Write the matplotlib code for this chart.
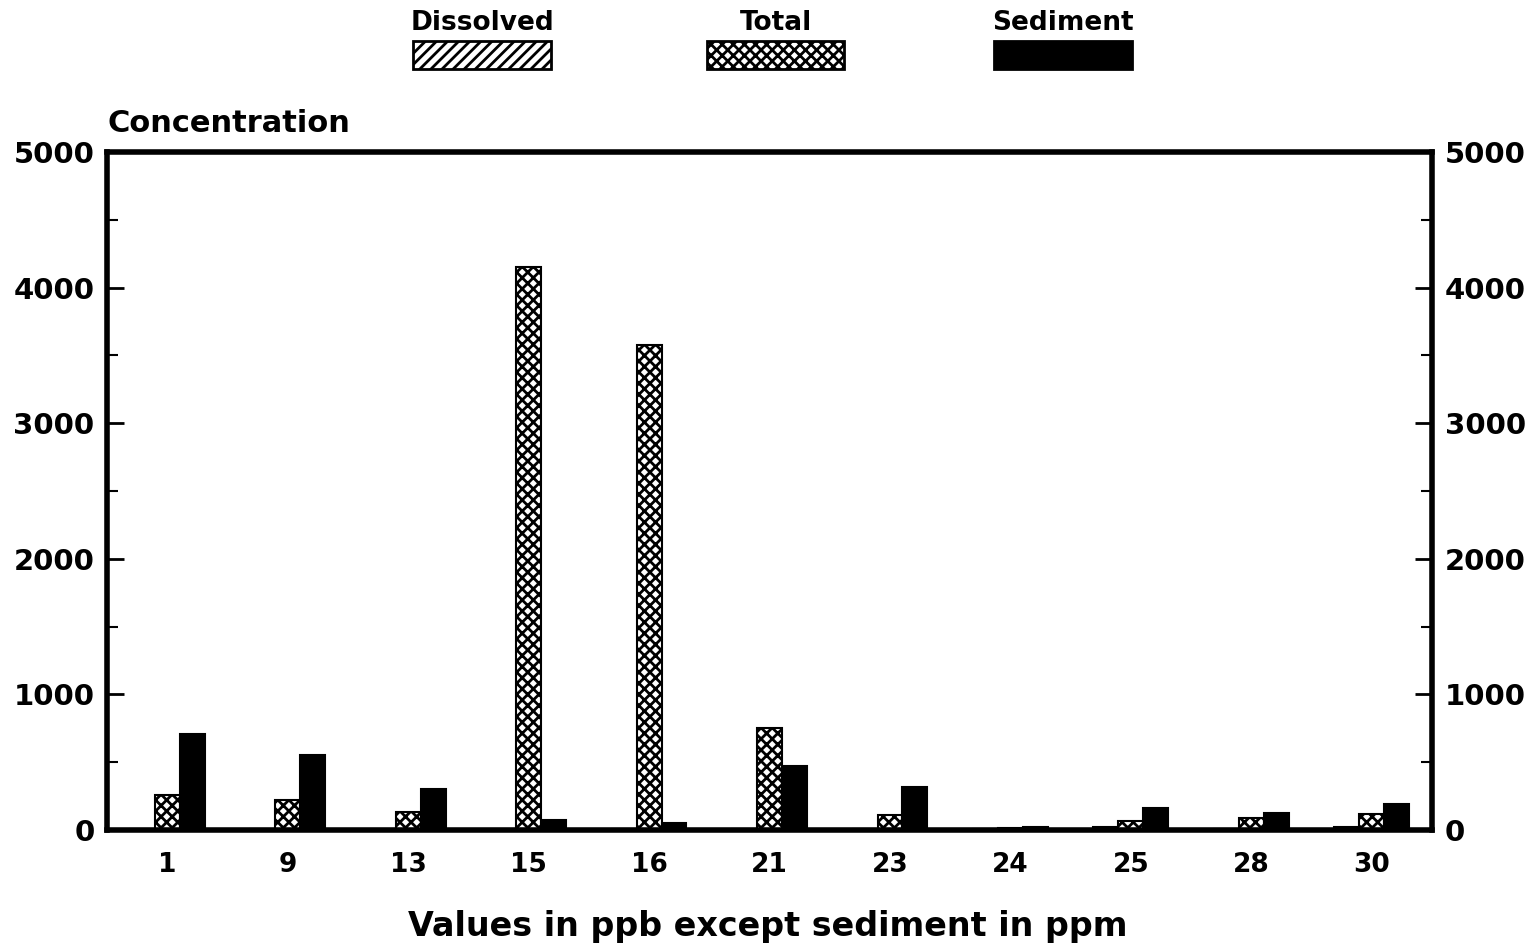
import matplotlib.pyplot as plt
import numpy as np
from matplotlib.patches import Rectangle
from matplotlib.ticker import MultipleLocator

plt.rcParams['font.family'] = ['DejaVu Sans']
plt.rcParams['font.weight'] = 'bold'
plt.rcParams['hatch.linewidth'] = 2.0

sites = ['1', '9', '13', '15', '16', '21', '23', '24', '25', '28', '30']
dissolved = [10, 5, 5, 10, 5, 5, 10, 10, 25, 5, 20]
total = [260, 220, 130, 4150, 3580, 750, 110, 15, 70, 90, 120]
sediment = [710, 550, 305, 75, 55, 470, 320, 20, 160, 125, 195]
series_names = ['Dissolved', 'Total', 'Sediment']
hatches = ['///', 'xxx', '']
fills = ['white', 'white', 'black']

fig = plt.figure(figsize=(15.36, 9.5), dpi=100)
ax = fig.add_axes([0.0697, 0.1263, 0.8626, 0.7137])

x = np.arange(len(sites))
w = 0.207
for i, vals in enumerate([dissolved, total, sediment]):
    ax.bar(x + (i - 1) * w, vals, width=w, color=fills[i], hatch=hatches[i],
           edgecolor='black', linewidth=1.5)

ax.set_xlim(-0.5, len(sites) - 0.5)
ax.set_ylim(0, 5000)
ax.set_xticks(x)
ax.set_xticklabels(sites, fontsize=19, fontweight='bold')
ax.tick_params(axis='x', length=0, pad=16)

ax.yaxis.set_major_locator(MultipleLocator(1000))
ax.yaxis.set_minor_locator(MultipleLocator(500))
ax.tick_params(axis='y', which='major', direction='in', length=12, width=2,
               labelsize=21, left=True, right=True, labelleft=True, labelright=True, pad=9)
ax.tick_params(axis='y', which='minor', direction='in', length=8, width=1.5,
               left=True, right=True)
for lbl in ax.get_yticklabels():
    lbl.set_fontweight('bold')

for s in ax.spines.values():
    s.set_linewidth(4)

ax.text(0, 1.02, 'Concentration', transform=ax.transAxes, fontsize=22,
        fontweight='bold', ha='left', va='bottom')

fig.text(0.5, 0.025, 'Values in ppb except sediment in ppm', ha='center', va='center',
         fontsize=24, fontweight='bold')

# legend: labels above swatches
leg_x = [0.269, 0.460, 0.647]
for name, hx, fc, lx in zip(series_names, hatches, fills, leg_x):
    fig.patches.append(Rectangle((lx, 0.927), 0.0898, 0.0295, transform=fig.transFigure,
                                 facecolor=fc, hatch=hx, edgecolor='black', linewidth=2))
    fig.text(lx + 0.0449, 0.976, name, ha='center', va='center', fontsize=19,
             fontweight='bold')

fig.savefig('out.png', dpi=100, facecolor='white')
